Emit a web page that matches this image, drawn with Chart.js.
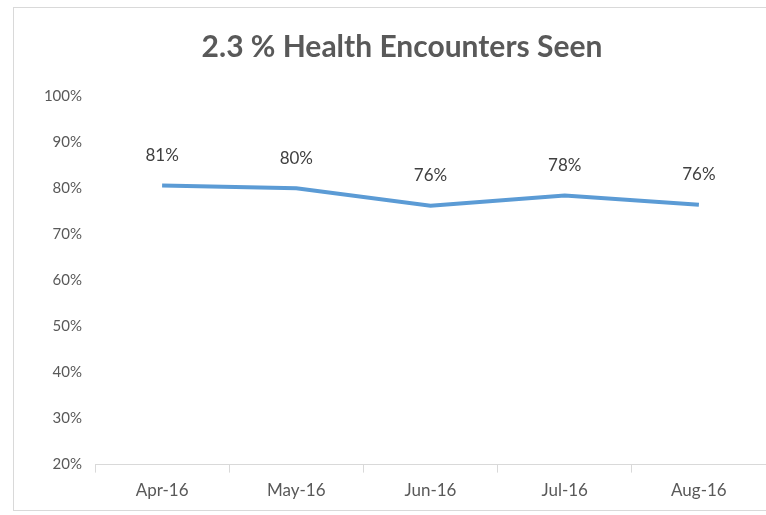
<!DOCTYPE html>
<html>
<head>
<meta charset="utf-8">
<script src="https://cdn.jsdelivr.net/npm/chart.js@4/dist/chart.umd.min.js"></script>
<style>
  html, body { margin: 0; padding: 0; background: #ffffff; }
  #wrap { width: 766px; height: 515px; position: relative; }
</style>
</head>
<body>
<div id="wrap"><canvas id="c" width="766" height="515"></canvas></div>
<script>
const chartTitle = "2.3 % Health Encounters Seen";
const categories = ["Apr-16", "May-16", "Jun-16", "Jul-16", "Aug-16"];
const seenPct = [80.6, 80.0, 76.2, 78.4, 76.4];
const yMin = 20, yMax = 100, yStep = 10;

const FONT = "Lato, 'Open Sans', 'Liberation Sans', sans-serif";

const framePlugin = {
  id: 'frame',
  beforeDraw(chart) {
    const ctx = chart.ctx;
    ctx.save();
    ctx.fillStyle = '#ffffff';
    ctx.fillRect(0, 0, chart.width, chart.height);
    ctx.strokeStyle = '#d9d9d9';
    ctx.lineWidth = 1;
    ctx.strokeRect(13.5, 7.5, chart.width + 20, 503);
    ctx.restore();
  }
};

const labelPlugin = {
  id: 'pointLabels',
  afterDatasetsDraw(chart) {
    const ctx = chart.ctx;
    const meta = chart.getDatasetMeta(0);
    ctx.save();
    ctx.font = "17px " + FONT;
    ctx.fillStyle = '#404040';
    ctx.textAlign = 'center';
    ctx.textBaseline = 'middle';
    meta.data.forEach((pt, i) => {
      const v = chart.data.datasets[0].data[i];
      ctx.fillText(Math.round(v) + '%', pt.x, pt.y - 30);
    });
    ctx.restore();
  }
};

new Chart(document.getElementById('c'), {
  type: 'line',
  data: {
    labels: categories,
    datasets: [{
      data: seenPct,
      borderColor: '#5B9BD5',
      borderWidth: 4,
      pointRadius: 0,
      pointHoverRadius: 0,
      tension: 0,
      fill: false
    }]
  },
  options: {
    responsive: false,
    animation: false,
    events: [],
    layout: { padding: { top: 29, right: 0, bottom: 6, left: 38 } },
    plugins: {
      legend: { display: false },
      tooltip: { enabled: false },
      title: {
        display: true,
        text: chartTitle,
        color: '#595959',
        font: { family: FONT, size: 30, weight: 'bold', lineHeight: 1.2 },
        padding: { top: 0, bottom: 31 }
      }
    },
    scales: {
      x: {
        offset: true,
        grid: {
          offset: true,
          drawOnChartArea: false,
          drawTicks: true,
          tickLength: 8,
          color: '#d9d9d9'
        },
        border: { display: true, color: '#d9d9d9', width: 1 },
        ticks: {
          color: '#595959',
          font: { family: FONT, size: 17 },
          padding: 8,
          maxRotation: 0
        }
      },
      y: {
        min: yMin,
        max: yMax,
        grid: { display: false, drawTicks: false },
        border: { display: false },
        afterFit(scale) { scale.width = 57; },
        ticks: {
          stepSize: yStep,
          color: '#595959',
          font: { family: FONT, size: 15 },
          padding: 13,
          callback: (v) => v + '%'
        }
      }
    }
  },
  plugins: [framePlugin, labelPlugin]
});
</script>
</body>
</html>
